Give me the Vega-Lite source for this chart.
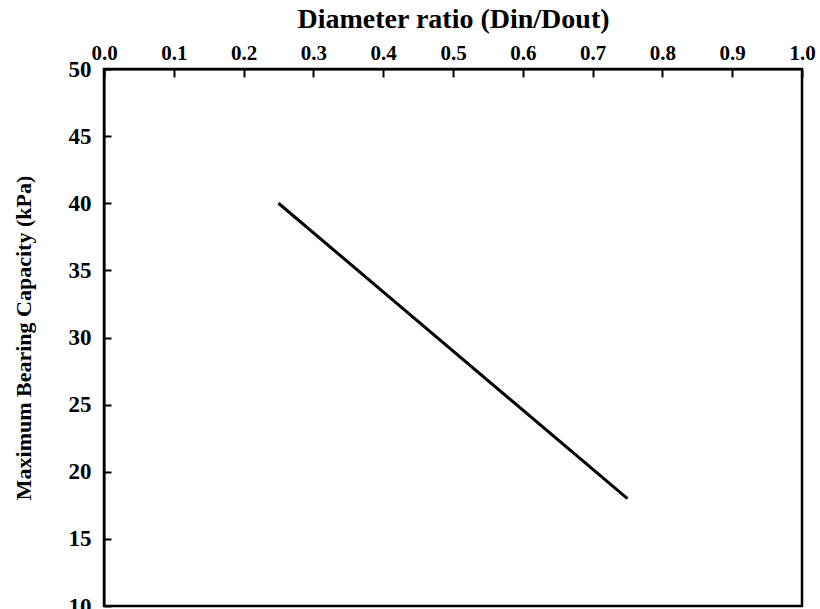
{
  "$schema": "https://vega.github.io/schema/vega-lite/v6.json",
  "autosize": "none",
  "width": 698,
  "height": 537,
  "padding": {"left": 104, "top": 69, "right": 18, "bottom": 3},
  "background": "white",
  "config": {
    "view": {"stroke": "black", "strokeWidth": 2.5},
    "font": "Liberation Serif"
  },
  "data": {"values": [
    {"ratio": 0.25, "capacity": 40},
    {"ratio": 0.75, "capacity": 18}
  ]},
  "mark": {"type": "line", "color": "black", "strokeWidth": 3},
  "encoding": {
    "x": {
      "field": "ratio", "type": "quantitative",
      "scale": {"domain": [0, 1], "nice": false, "zero": false},
      "axis": {
        "orient": "top",
        "title": "Diameter ratio (Din/Dout)",
        "values": [0, 0.1, 0.2, 0.3, 0.4, 0.5, 0.6, 0.7, 0.8, 0.9, 1.0],
        "format": ".1f",
        "grid": false,
        "domainColor": "black", "domainWidth": 2,
        "tickColor": "black", "tickWidth": 2, "tickSize": -8,
        "labelFont": "Liberation Serif", "labelFontWeight": "bold", "labelFontSize": 21, "labelColor": "black",
        "labelPadding": 14,
        "labelFlush": false,
        "titleFont": "Liberation Serif", "titleFontWeight": "bold", "titleFontSize": 28, "titleColor": "black",
        "titlePadding": 9
      }
    },
    "y": {
      "field": "capacity", "type": "quantitative",
      "scale": {"domain": [10, 50], "nice": false, "zero": false},
      "axis": {
        "title": "Maximum Bearing Capacity (kPa)",
        "values": [10, 15, 20, 25, 30, 35, 40, 45, 50],
        "grid": false,
        "domainColor": "black", "domainWidth": 2,
        "tickColor": "black", "tickWidth": 2, "tickSize": -7,
        "labelFont": "Liberation Serif", "labelFontWeight": "bold", "labelFontSize": 23, "labelColor": "black",
        "labelPadding": 20,
        "labelFlush": false,
        "titleFont": "Liberation Serif", "titleFontWeight": "bold", "titleFontSize": 22, "titleColor": "black",
        "titlePadding": 33
      }
    }
  }
}
